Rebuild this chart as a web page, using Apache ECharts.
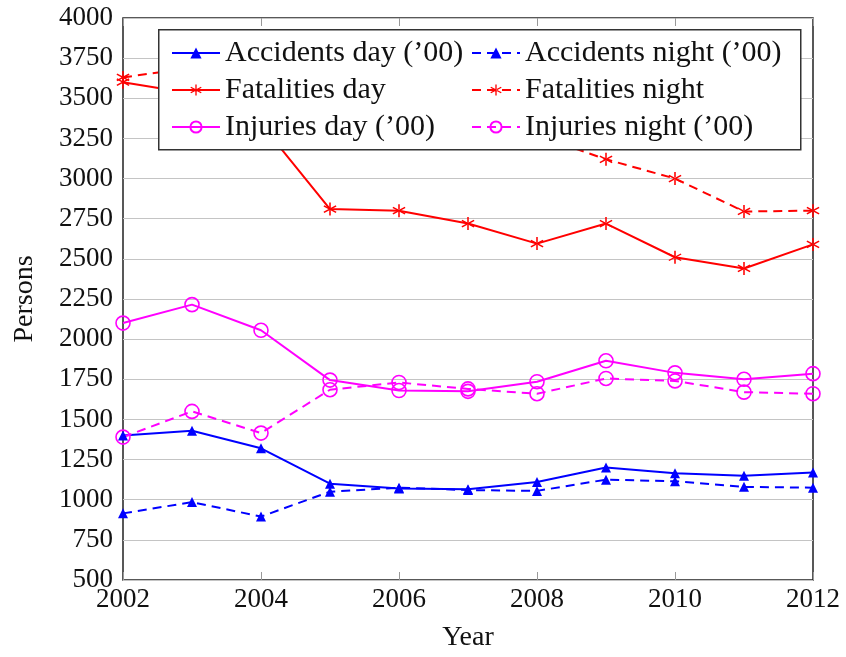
<!DOCTYPE html>
<html>
<head>
<meta charset="utf-8">
<script src="https://cdn.jsdelivr.net/npm/echarts@6/dist/echarts.min.js"></script>
<style>
  html, body { margin: 0; padding: 0; background: #fff; }
  #chart { width: 846px; height: 657px; }
</style>
</head>
<body>
<div id="chart"></div>
<script>
var years = [2002, 2003, 2004, 2005, 2006, 2007, 2008, 2009, 2010, 2011, 2012];

var accidentsDay = [1400, 1430, 1320, 1100, 1070, 1065, 1110, 1200, 1165, 1150, 1170];
var accidentsNight = [915, 985, 895, 1050, 1075, 1060, 1055, 1125, 1115, 1080, 1075];
var fatalitiesDay = [3600, 3530, 3340, 2810, 2800, 2720, 2595, 2720, 2510, 2440, 2590];
var fatalitiesNight = [3630, 3690, 3560, 3400, 3420, 3350, 3270, 3120, 3000, 2795, 2800];
var injuriesDay = [2100, 2215, 2055, 1745, 1680, 1675, 1735, 1865, 1790, 1750, 1785];
var injuriesNight = [1390, 1550, 1415, 1685, 1730, 1690, 1660, 1755, 1740, 1670, 1660];

var FONT = 'Liberation Serif';
var BLUE = '#0000ff', RED = '#ff0000', MAGENTA = '#ff00ff';
var DASH = [9, 6];

// six-armed asterisk mark
var STAR = 'path://M8.9 0H11.1V20H8.9Z M18.11 15.95L19.21 14.05L1.89 4.05L0.79 5.95Z M0.79 14.05L1.89 15.95L19.21 5.95L18.11 4.05Z';

function pairs(vals) {
    return years.map(function (y, i) { return [y, vals[i]]; });
}

function makeSeries(name, vals, color, dashed, mark) {
    var s = {
        name: name,
        type: 'line',
        data: pairs(vals),
        lineStyle: { color: color, width: 2, type: dashed ? DASH : 'solid' },
        itemStyle: { color: color },
        z: 2
    };
    if (mark === 'tri') {
        s.symbol = 'triangle';
        s.symbolSize = 10;
    } else if (mark === 'star') {
        s.symbol = STAR;
        s.symbolSize = 13;
    } else {
        s.symbol = 'circle';
        s.symbolSize = 14;
        s.itemStyle = { color: 'rgba(0,0,0,0)', borderColor: color, borderWidth: 1.6 };
    }
    return s;
}

var myChart = echarts.init(document.getElementById('chart'));

var tickStyle = { show: true, inside: true, length: 8, lineStyle: { color: '#999', width: 1 } };
var legendText = { fontFamily: FONT, fontSize: 30, color: '#111', lineHeight: 28 };

var option = {
    backgroundColor: '#fff',
    animation: false,
    grid: {
        left: 123, right: 33, top: 18, bottom: 75,
        show: true, borderColor: '#222', borderWidth: 1.5
    },
    graphic: [{
        type: 'rect',
        left: 158, top: 29, z: 10,
        shape: { width: 642, height: 120 },
        style: { fill: '#fff', stroke: '#333', lineWidth: 1.5 }
    }],
    legend: [{
        orient: 'vertical',
        left: 166, top: 33, z: 20,
        itemWidth: 48, itemHeight: 14, itemGap: 7,
        textStyle: legendText,
        data: ['Accidents day (\u201900)', 'Fatalities day', 'Injuries day (\u201900)']
    }, {
        orient: 'vertical',
        left: 466, top: 33, z: 20,
        itemWidth: 48, itemHeight: 14, itemGap: 7,
        textStyle: legendText,
        data: ['Accidents night (\u201900)', 'Fatalities night', 'Injuries night (\u201900)']
    }],
    xAxis: [{
        type: 'value', min: 2002, max: 2012, interval: 2,
        name: 'Year', nameLocation: 'middle', nameGap: 44,
        nameTextStyle: { fontFamily: FONT, fontSize: 28, color: '#111' },
        axisLine: { show: false },
        axisTick: tickStyle,
        splitLine: { show: false },
        axisLabel: { fontFamily: FONT, fontSize: 27, color: '#111', margin: 6,
            formatter: function (v) { return String(v); } }
    }, {
        type: 'value', min: 2002, max: 2012, interval: 2, position: 'top',
        axisLine: { show: false },
        axisTick: tickStyle,
        splitLine: { show: false },
        axisLabel: { show: false }
    }],
    yAxis: {
        type: 'value', min: 500, max: 4000, interval: 250,
        name: 'Persons', nameLocation: 'middle', nameGap: 84,
        nameTextStyle: { fontFamily: FONT, fontSize: 28, color: '#111' },
        axisLine: { show: false },
        axisTick: { show: false },
        splitLine: { show: true, lineStyle: { color: '#c4c4c4', width: 1.2 } },
        axisLabel: { fontFamily: FONT, fontSize: 27, color: '#111', margin: 10,
            formatter: function (v) { return String(v); } }
    },
    series: [
        makeSeries('Accidents day (\u201900)', accidentsDay, BLUE, false, 'tri'),
        makeSeries('Accidents night (\u201900)', accidentsNight, BLUE, true, 'tri'),
        makeSeries('Fatalities day', fatalitiesDay, RED, false, 'star'),
        makeSeries('Fatalities night', fatalitiesNight, RED, true, 'star'),
        makeSeries('Injuries day (\u201900)', injuriesDay, MAGENTA, false, 'circ'),
        makeSeries('Injuries night (\u201900)', injuriesNight, MAGENTA, true, 'circ')
    ]
};

myChart.setOption(option);
</script>
</body>
</html>
